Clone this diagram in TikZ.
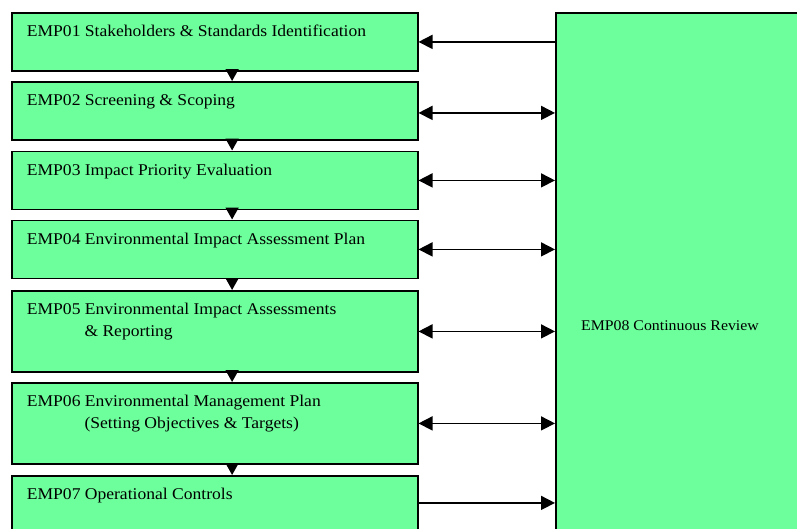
\documentclass[tikz,border=0pt]{standalone}
\usepackage{fontspec}
\setmainfont{Liberation Serif}[FakeStretch=1.07]
\usetikzlibrary{arrows.meta,calc}
\definecolor{boxgreen}{RGB}{108,255,155}
\begin{document}
\begin{tikzpicture}[x=1pt,y=-1pt,
  stagebox/.style={draw=black,line width=1.8pt,fill=boxgreen,rectangle,inner sep=0pt,
    minimum width=406pt,minimum height=58pt,anchor=north west},
  tallbox/.style={stagebox,minimum height=81pt},
  boxtext/.style={anchor=base west,inner sep=0pt,font=\fontsize{16.4pt}{21.5pt}\selectfont,align=left},
  downarrow/.style={line width=1.6pt,-{Triangle[length=12pt,width=13pt]}},
  sidearrow/.style={line width=1.6pt,-{Triangle[length=14pt,width=14pt]}},
  bothside/.style={line width=1.6pt,{Triangle[length=14pt,width=14pt]}-{Triangle[length=14pt,width=14pt]}}]
\useasboundingbox (0,0) rectangle (797,528);
\clip (0,0) rectangle (797,528);
\fill[white] (0,0) rectangle (797,528);

\node[stagebox] (b1) at (10.7,12) {};
\node[stagebox] (b2) at (10.7,81) {};
\node[stagebox] (b3) at (10.7,150.5) {};
\node[stagebox] (b4) at (10.7,219.5) {};
\node[tallbox] (b5) at (10.7,290) {};
\node[tallbox] (b6) at (10.7,382) {};
\node[stagebox] (b7) at (10.7,475) {};
\node[draw=black,line width=1.8pt,fill=boxgreen,rectangle,inner sep=0pt,
  minimum width=260pt,minimum height=540pt,anchor=north west] (r) at (555,12) {};

\node[boxtext] (t1) at ($(b1.north west)+(16,24.7)$) {EMP01 Stakeholders \& Standards Identification};
\node[boxtext] (t2) at ($(b2.north west)+(16,24.7)$) {EMP02 Screening \& Scoping};
\node[boxtext] (t3) at ($(b3.north west)+(16,24.7)$) {EMP03 Impact Priority Evaluation};
\node[boxtext] (t4) at ($(b4.north west)+(16,24.7)$) {EMP04 Environmental Impact Assessment Plan};
\node[boxtext] (t5) at ($(b5.north west)+(16,24.7)$) {EMP05 Environmental Impact Assessments};
\node[boxtext] (t5b) at ($(b5.north west)+(73.6,46.2)$) {\& Reporting};
\node[boxtext] (t6) at ($(b6.north west)+(16,24.7)$) {EMP06 Environmental Management Plan};
\node[boxtext] (t6b) at ($(b6.north west)+(73.6,46.2)$) {(Setting Objectives \& Targets)};
\node[boxtext] (t7) at ($(b7.north west)+(16,24.7)$) {EMP07 Operational Controls};
\node[anchor=base,inner sep=0pt,font=\fontsize{14.8pt}{18pt}\selectfont] (t8) at (670,330) {EMP08 Continuous Review};

\draw[downarrow] ([xshift=17.5pt]b1.south) -- ([xshift=17.5pt]b2.north);
\draw[downarrow] ([xshift=17.5pt]b2.south) -- ([xshift=17.5pt]b3.north);
\draw[downarrow] ([xshift=17.5pt]b3.south) -- ([xshift=17.5pt]b4.north);
\draw[downarrow] ([xshift=17.5pt]b4.south) -- ([xshift=17.5pt]b5.north);
\draw[downarrow] ([xshift=17.5pt]b5.south) -- ([xshift=17.5pt]b6.north);
\draw[downarrow] ([xshift=17.5pt]b6.south) -- ([xshift=17.5pt]b7.north);

\draw[sidearrow] (b1.east -| r.west) -- (b1.east);
\draw[bothside] ([yshift=-2pt]b2.east) -- ([yshift=-2pt]b2.east -| r.west);
\draw[bothside] (b3.east) -- (b3.east -| r.west);
\draw[bothside] (b4.east) -- (b4.east -| r.west);
\draw[bothside] (b5.east) -- (b5.east -| r.west);
\draw[bothside] (b6.east) -- (b6.east -| r.west);
\draw[sidearrow] ([yshift=2pt]b7.east) -- ([yshift=2pt]b7.east -| r.west);
\end{tikzpicture}
\end{document}
